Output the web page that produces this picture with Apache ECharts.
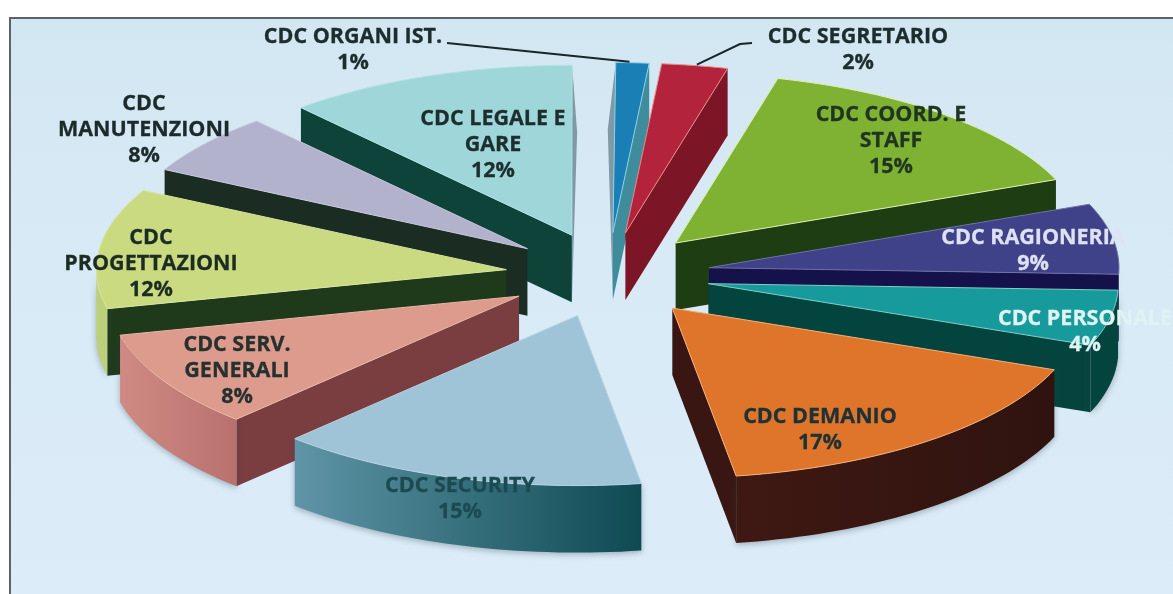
<!DOCTYPE html>
<html><head><meta charset="utf-8">
<style>html,body{margin:0;padding:0;background:#fff;overflow:hidden}#c{width:1173px;height:594px;filter:blur(0.5px)}</style>
<script src="https://cdn.jsdelivr.net/npm/echarts@6/dist/echarts.min.js"></script>
</head><body><div id="c"></div>
<script>
// Data
const categories = ['CDC ORGANI IST.','CDC SEGRETARIO','CDC COORD. E\nSTAFF','CDC RAGIONERIA','CDC PERSONALE','CDC DEMANIO','CDC SECURITY','CDC SERV.\nGENERALI','CDC\nPROGETTAZIONI','CDC\nMANUTENZIONI','CDC LEGALE E\nGARE'];
const printedPercent = [1,2,15,9,4,17,15,8,12,8,12];
// Angular share of the full turn as actually drawn in the picture (%)
const drawnShare = [1.3,2.6,14.9,6.7,5.3,16.6,14.6,9.2,11.4,5.8,11.5];

// Styles
const topColor = ['#1a7fb4','#b3243c','#7fb233','#3f4189','#169a9c','#df752a','#9fc4d7','#dd9b8d','#c9da80','#b2b2cd','#9fd6d9'];
const radialWall = ['#3f8c9c','#7c1627','#1e3d12','#15114a','#04443f','#3a1612','#0e4a52','#7a3d40','#1f3a1b','#1b2c22','#0e4339'];
const outerWallL = ['#5f90a2','#7c1627','#1e3d12','#15114a','#04443f','#3f1812','#5f95a7','#d08a84','#bccf7a','#1b2c22','#0e4339'];
const outerWallR = ['#5f90a2','#7c1627','#1e3d12','#15114a','#04443f','#2f130f','#0e4a52','#b8716c','#bccf7a','#1b2c22','#0e4339'];
const edgeColor = ['#8fd0e6','#e88a8a','#dcefb0','#6f72a8','#7fd0c8','#f2b078','#b5d3e0','#e8b8a8','#d8e5a0','#c6c6dc','#b5e2e4'];
const paintRank = [0,1,3,5,7,9,10,8,6,4,2];
const labelColor = ['#1d2c2c','#1d2c2c','#1f3520','#dde2f2','#dff3f3','#1d3236','#1c4a52','#24312e','#1d2c22','#1d2a2a','#1d2e2e'];
const labelCenter = [[353,50],[858,50],[891,141],[1033,251],[1085,332],[820,430],[460,499],[237,371],[151,264],[144,130],[493,145]];
const leaderEnd = [[447,43],[752,43]];

// Pie layout
const cx=608, cy=275, rx=410, ry=170, depth=67, explode=0.25, startDeg=0.4;
const rad=d=>d*Math.PI/180;
const spans=[]; { let a=startDeg; drawnShare.forEach(s=>{const e=a+s*3.6; spans.push([a,e]); a=e;}); }
const pt=(o,t)=>[o[0]+rx*Math.sin(rad(t)), o[1]-ry*Math.cos(rad(t))];
const down=p=>[p[0],p[1]+depth];
const arc=(o,a,b)=>{const n=Math.max(2,Math.ceil((b-a)/1.5)),r=[];for(let i=0;i<=n;i++)r.push(pt(o,a+(b-a)*i/n));return r;};

function renderItem(params){
  const i=params.dataIndex, [a,b]=spans[i], m=(a+b)/2, R=paintRank[i]*10;
  const o=[cx+explode*rx*Math.sin(rad(m)), cy-explode*ry*Math.cos(rad(m))];
  const kids=[];
  const poly=(pts,fill,z,extra)=>kids.push(Object.assign({type:'polygon',shape:{points:pts},style:Object.assign({fill:fill},extra||{}),z2:R+z}));
  // outer curved wall
  const oa=Math.max(a,90), ob=Math.min(b,270);
  if(ob>oa){
    const top=arc(o,oa,ob), bot=top.map(down).reverse();
    poly(top.concat(bot), new echarts.graphic.LinearGradient(0,0,1,0,[{offset:0,color:outerWallL[i]},{offset:1,color:outerWallR[i]}]),2,{shadowBlur:6,shadowColor:'rgba(40,60,70,0.35)',shadowOffsetY:2});
  }
  // radial walls facing the viewer
  const sa=pt(o,a), sb=pt(o,b);
  if(Math.sin(rad(a))<0) poly([o,sa,down(sa),down(o)],radialWall[i],1);
  if(Math.sin(rad(b))>0) poly([o,sb,down(sb),down(o)],radialWall[i],1);
  // thin far-side slivers near 12 o'clock
  if(i===0) poly([o,down(o),[sa[0]-8,sa[1]+depth],sa],'#7f9aa6',0);
  if(i===10) poly([o,down(o),[sb[0]+5,sb[1]+depth],sb],'#7f9aa6',0);
  // top face
  poly([o].concat(arc(o,a,b)),topColor[i],3,{stroke:edgeColor[i],lineWidth:1});
  // label
  kids.push({type:'text',x:labelCenter[i][0],y:labelCenter[i][1],z2:1000,
    style:{text:categories[i]+'\n'+printedPercent[i]+'%',fill:labelColor[i],font:'bold 21.5px "Open Sans"',align:'center',verticalAlign:'middle',lineHeight:26,stroke:labelColor[i],lineWidth:0.3}});
  // leader lines
  if(i<2){
    const q=pt(o,m);
    kids.push({type:'polyline',z2:999,shape:{points: i===0?[leaderEnd[0],[q[0]-3,q[1]-1]]:[leaderEnd[1],[740,44],[q[0]+2,q[1]-1]]},style:{stroke:'#16262a',lineWidth:2,fill:null}});
  }
  return {type:'group',children:kids};
}

const chart=echarts.init(document.getElementById('c'),null,{renderer:'canvas'});
chart.setOption({
  animation:false,
  backgroundColor:'#ffffff',
  graphic:[{type:'rect',z:-1,shape:{x:10,y:18,width:1175,height:590},
    style:{fill:new echarts.graphic.LinearGradient(0,0,0,1,[{offset:0,color:'#d3e7f3'},{offset:0.6,color:'#d9ebf6'},{offset:1,color:'#dcecf9'}]),stroke:'#5a6468',lineWidth:2}}],
  series:[{type:'custom',coordinateSystem:'none',silent:true,renderItem:renderItem,data:drawnShare.map(v=>[v])}]
});
</script></body></html>
